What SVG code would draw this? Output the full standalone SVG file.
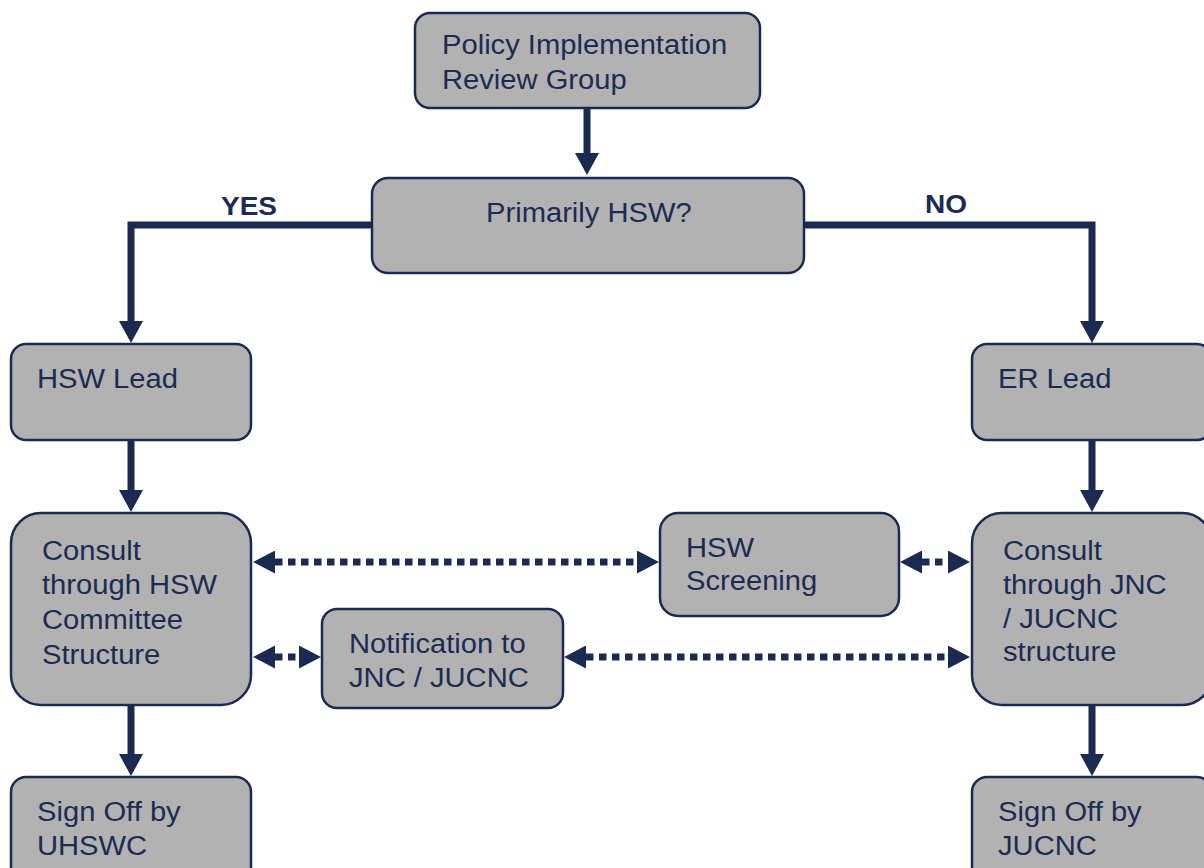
<svg xmlns="http://www.w3.org/2000/svg" width="1204" height="868" viewBox="0 0 1204 868">
<defs>
<style>
.box{fill:#b2b2b2;stroke:#1b2a50;stroke-width:2.5}
.t{font-family:"Liberation Sans",Arial,sans-serif;font-size:27px;fill:#1c2b52}
.lbl{font-family:"Liberation Sans",Arial,sans-serif;font-size:25px;font-weight:bold;fill:#1c2b52}
.solid{fill:none;stroke:#1b2a50;stroke-width:7;stroke-linejoin:miter}
.dot{fill:none;stroke:#1b2a50;stroke-width:7;stroke-dasharray:7.5 5.5}
</style>
<marker id="ah" viewBox="0 -12 22 24" refX="0" refY="0" markerWidth="22" markerHeight="24" markerUnits="userSpaceOnUse" orient="auto">
<path d="M0,-12 L22,0 L0,12 z" fill="#1b2a50"/>
</marker>
<marker id="dh" viewBox="0 -11.5 22 23" refX="0" refY="0" markerWidth="22" markerHeight="23" markerUnits="userSpaceOnUse" orient="auto-start-reverse">
<path d="M0,-11.5 L22,0 L0,11.5 z" fill="#1b2a50"/>
</marker>
</defs>
<rect width="1204" height="868" fill="#ffffff"/>
<g id="connectors">
<path class="solid" d="M587,108 V153" marker-end="url(#ah)"/>
<path class="solid" d="M372,225 H131 V321" marker-end="url(#ah)"/>
<path class="solid" d="M804,225 H1092 V321" marker-end="url(#ah)"/>
<path class="solid" d="M131,440 V490" marker-end="url(#ah)"/>
<path class="solid" d="M1092,440 V490" marker-end="url(#ah)"/>
<path class="solid" d="M131,705 V754" marker-end="url(#ah)"/>
<path class="solid" d="M1092,705 V754" marker-end="url(#ah)"/>
<path class="dot" d="M275,562 H637" marker-start="url(#dh)" marker-end="url(#dh)"/>
<path class="dot" d="M922,562 H948" marker-start="url(#dh)" marker-end="url(#dh)"/>
<path class="dot" d="M275,657 H299" marker-start="url(#dh)" marker-end="url(#dh)"/>
<path class="dot" d="M586,657 H948" marker-start="url(#dh)" marker-end="url(#dh)"/>
<text class="lbl" transform="translate(221,215) scale(1.12,1)">YES</text>
<text class="lbl" transform="translate(925,213) scale(1.12,1)">NO</text>
</g>
<g id="pirg">
<rect class="box" x="415" y="13" width="345" height="95" rx="15"/>
<text class="t" transform="translate(442,54) scale(1.08,1)"><tspan x="0" y="0">Policy Implementation</tspan><tspan x="0" y="35">Review Group</tspan></text>
</g>
<g id="primarily">
<rect class="box" x="372" y="178" width="432" height="95" rx="16"/>
<text class="t" transform="translate(486,222) scale(1.08,1)">Primarily HSW?</text>
</g>
<g id="hswlead">
<rect class="box" x="11" y="344" width="240" height="96" rx="15"/>
<text class="t" transform="translate(37,388) scale(1.08,1)">HSW Lead</text>
</g>
<g id="erlead">
<rect class="box" x="972" y="344" width="240" height="96" rx="15"/>
<text class="t" transform="translate(998,388) scale(1.08,1)">ER Lead</text>
</g>
<g id="consulthsw">
<rect class="box" x="11" y="513" width="240" height="192" rx="30"/>
<text class="t" transform="translate(42,560) scale(1.08,1)"><tspan x="0" y="0">Consult</tspan><tspan x="0" y="34.5">through HSW</tspan><tspan x="0" y="69">Committee</tspan><tspan x="0" y="104">Structure</tspan></text>
</g>
<g id="hswscreening">
<rect class="box" x="660" y="513" width="239" height="103" rx="18"/>
<text class="t" transform="translate(686,557) scale(1.08,1)"><tspan x="0" y="0">HSW</tspan><tspan x="0" y="33">Screening</tspan></text>
</g>
<g id="notification">
<rect class="box" x="322" y="609" width="241" height="99" rx="15"/>
<text class="t" transform="translate(349,653) scale(1.08,1)"><tspan x="0" y="0">Notification to</tspan><tspan x="0" y="34">JNC / JUCNC</tspan></text>
</g>
<g id="consultjnc">
<rect class="box" x="972" y="513" width="240" height="192" rx="30"/>
<text class="t" transform="translate(1003,560) scale(1.08,1)"><tspan x="0" y="0">Consult</tspan><tspan x="0" y="34">through JNC</tspan><tspan x="0" y="68">/ JUCNC</tspan><tspan x="0" y="101">structure</tspan></text>
</g>
<g id="signoffuhswc">
<rect class="box" x="11" y="777" width="240" height="105" rx="15"/>
<text class="t" transform="translate(37,821) scale(1.08,1)"><tspan x="0" y="0">Sign Off by</tspan><tspan x="0" y="34">UHSWC</tspan></text>
</g>
<g id="signoffjucnc">
<rect class="box" x="972" y="777" width="240" height="105" rx="15"/>
<text class="t" transform="translate(998,821) scale(1.08,1)"><tspan x="0" y="0">Sign Off by</tspan><tspan x="0" y="34">JUCNC</tspan></text>
</g>
</svg>
